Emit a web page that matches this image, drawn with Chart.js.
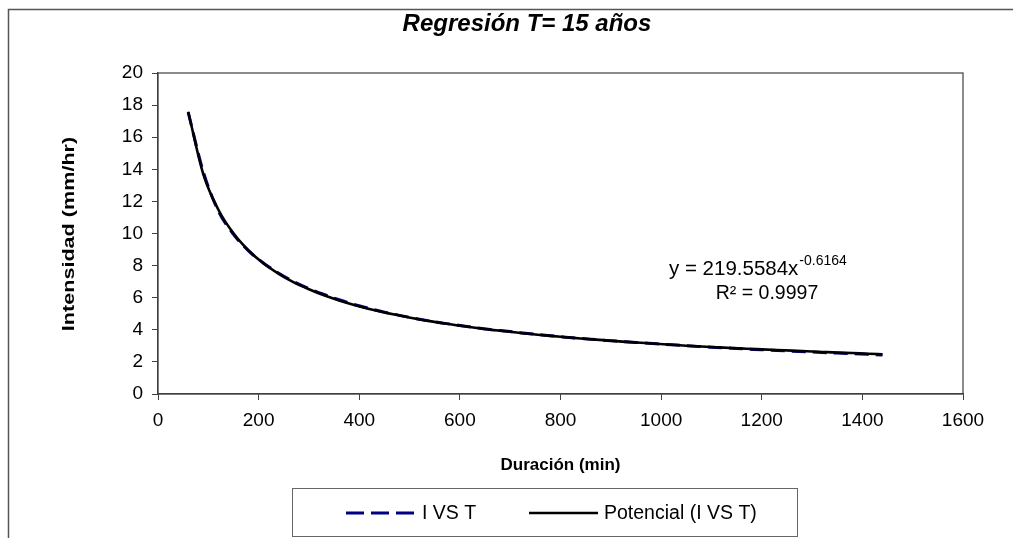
<!DOCTYPE html>
<html>
<head>
<meta charset="utf-8">
<script src="https://cdn.jsdelivr.net/npm/chart.js@4.4.1/dist/chart.umd.min.js"></script>
<style>
  html, body { margin: 0; padding: 0; background: #ffffff; }
  #wrap { width: 1016px; height: 538px; position: relative; }
</style>
</head>
<body>
<div id="wrap"><canvas id="c" width="1016" height="538"></canvas></div>
<script>
// ---- data ----
const chartTitle = "Regresión T= 15 años";
const xAxisTitle = "Duración (min)";
const yAxisTitle = "Intensidad (mm/hr)";
const seriesName = "I VS T";
const trendName = "Potencial (I VS T)";
const equationText = "y = 219.5584x";
const equationExp = "-0.6164";
const r2Text = "R² = 0.9997";

const durations = [60, 90, 120, 150, 180, 210, 240, 270, 300, 330, 360, 390, 420, 450, 480, 510, 540, 570, 600, 630, 660, 690, 720, 750, 780, 810, 840, 870, 900, 930, 960, 990, 1020, 1050, 1080, 1110, 1140, 1170, 1200, 1230, 1260, 1290, 1320, 1350, 1380, 1410, 1440];
const intensities = [17.55, 13.85, 11.40, 9.95, 8.92, 8.15, 7.52, 7.00, 6.57, 6.20, 5.87, 5.58, 5.33, 5.10, 4.90, 4.72, 4.55, 4.40, 4.27, 4.14, 4.02, 3.92, 3.82, 3.72, 3.63, 3.54, 3.46, 3.39, 3.32, 3.25, 3.19, 3.13, 3.07, 3.01, 2.95, 2.90, 2.85, 2.80, 2.76, 2.71, 2.67, 2.63, 2.59, 2.55, 2.51, 2.47, 2.43];
const trendValues = [17.59, 13.70, 11.48, 10.01, 8.94, 8.13, 7.49, 6.96, 6.53, 6.15, 5.83, 5.55, 5.30, 5.08, 4.89, 4.70, 4.54, 4.39, 4.26, 4.13, 4.01, 3.91, 3.80, 3.71, 3.62, 3.54, 3.46, 3.39, 3.32, 3.25, 3.19, 3.13, 3.07, 3.01, 2.96, 2.91, 2.87, 2.82, 2.78, 2.74, 2.70, 2.66, 2.62, 2.58, 2.55, 2.51, 2.48];

const xMin = 0, xMax = 1600, xStep = 200;
const yMin = 0, yMax = 20, yStep = 2;

const FONT = "'Liberation Sans', Arial, sans-serif";

const seriesPoints = durations.map((d, i) => ({ x: d, y: intensities[i] }));
const trendPoints = durations.map((d, i) => ({ x: d, y: trendValues[i] }));

const decorPlugin = {
  id: 'decor',
  beforeDraw(chart) {
    const ctx = chart.ctx;
    ctx.save();
    ctx.fillStyle = '#ffffff';
    ctx.fillRect(0, 0, chart.width, chart.height);
    // outer frame (continues past the bottom edge)
    ctx.strokeStyle = '#555555';
    ctx.lineWidth = 1.5;
    ctx.beginPath();
    ctx.moveTo(8.5, 545);
    ctx.lineTo(8.5, 9.5);
    ctx.lineTo(1013, 9.5);
    ctx.stroke();
    ctx.restore();
  },
  afterDatasetsDraw(chart) {
    const ctx = chart.ctx;
    const a = chart.chartArea;
    ctx.save();
    // plot box
    ctx.strokeStyle = '#404040';
    ctx.lineWidth = 1.2;
    ctx.strokeRect(a.left, a.top, a.right - a.left, a.bottom - a.top);
    // title
    ctx.fillStyle = '#000000';
    ctx.font = "italic bold 24px " + FONT;
    ctx.textAlign = 'center';
    ctx.textBaseline = 'middle';
    ctx.fillText(chartTitle, 527, 24);
    // y axis title (rotated, stretched along its baseline like the original)
    ctx.save();
    ctx.translate(69, 234);
    ctx.rotate(-Math.PI / 2);
    ctx.scale(1.27, 1);
    ctx.font = "bold 17px " + FONT;
    ctx.textAlign = 'center';
    ctx.textBaseline = 'middle';
    ctx.fillText(yAxisTitle, 0, 0);
    ctx.restore();
    // equation annotation
    ctx.font = "20.5px " + FONT;
    ctx.textAlign = 'left';
    ctx.textBaseline = 'alphabetic';
    const w = ctx.measureText(equationText).width;
    const startX = 669;
    ctx.fillText(equationText, startX, 275);
    ctx.font = "14px " + FONT;
    ctx.fillText(equationExp, startX + w + 1, 265);
    ctx.font = "19.5px " + FONT;
    ctx.textAlign = 'center';
    ctx.fillText(r2Text, 767, 299);
    // legend
    ctx.strokeStyle = '#666666';
    ctx.lineWidth = 1;
    ctx.strokeRect(292.5, 488.5, 505, 48);
    const ly = 513;
    ctx.lineWidth = 3;
    ctx.strokeStyle = '#000080';
    ctx.setLineDash([18, 7]);
    ctx.beginPath(); ctx.moveTo(346, ly); ctx.lineTo(415, ly); ctx.stroke();
    ctx.setLineDash([]);
    ctx.strokeStyle = '#000000';
    ctx.lineWidth = 2.5;
    ctx.beginPath(); ctx.moveTo(529, ly); ctx.lineTo(598, ly); ctx.stroke();
    ctx.fillStyle = '#000000';
    ctx.font = "19.5px " + FONT;
    ctx.textAlign = 'left';
    ctx.textBaseline = 'middle';
    ctx.fillText(seriesName, 422, ly + 1);
    ctx.fillText(trendName, 604, ly + 1);
    ctx.restore();
  }
};

new Chart(document.getElementById('c'), {
  type: 'scatter',
  data: {
    datasets: [
      {
        label: trendName,
        data: trendPoints,
        showLine: true,
        borderColor: '#000000',
        borderWidth: 2.6,
        pointRadius: 0,
        cubicInterpolationMode: 'monotone',
        order: 0
      },
      {
        label: seriesName,
        data: seriesPoints,
        showLine: true,
        borderColor: '#000080',
        borderWidth: 3,
        borderDash: [14, 7],
        pointRadius: 0,
        cubicInterpolationMode: 'monotone',
        order: 1
      }
    ]
  },
  options: {
    responsive: false,
    animation: false,
    devicePixelRatio: 1,
    layout: { padding: { left: 0, top: 73, right: 53, bottom: 0 } },
    plugins: {
      legend: { display: false },
      tooltip: { enabled: false },
      title: { display: false }
    },
    scales: {
      x: {
        type: 'linear',
        min: xMin, max: xMax,
        afterFit(s) { s.height = 144; },
        ticks: { stepSize: xStep, color: '#000', font: { family: FONT, size: 19 }, padding: 9, maxRotation: 0,
                 callback: (v) => String(v) },
        grid: { display: true, drawOnChartArea: false, drawTicks: true, tickLength: 6, color: '#404040', tickColor: '#404040' },
        border: { display: true, color: '#404040', width: 1.2 },
        title: { display: true, text: xAxisTitle, color: '#000', font: { family: FONT, size: 17, weight: 'bold' }, padding: { top: 0, bottom: 62 } }
      },
      y: {
        type: 'linear',
        min: yMin, max: yMax,
        afterFit(s) { s.width = 158; },
        ticks: { stepSize: yStep, color: '#000', font: { family: FONT, size: 19 }, padding: 9,
                 callback: (v) => String(v) },
        grid: { display: true, drawOnChartArea: false, drawTicks: true, tickLength: 6, color: '#404040', tickColor: '#404040' },
        border: { display: true, color: '#404040', width: 1.2 },
        title: { display: false }
      }
    }
  },
  plugins: [decorPlugin]
});
</script>
</body>
</html>
